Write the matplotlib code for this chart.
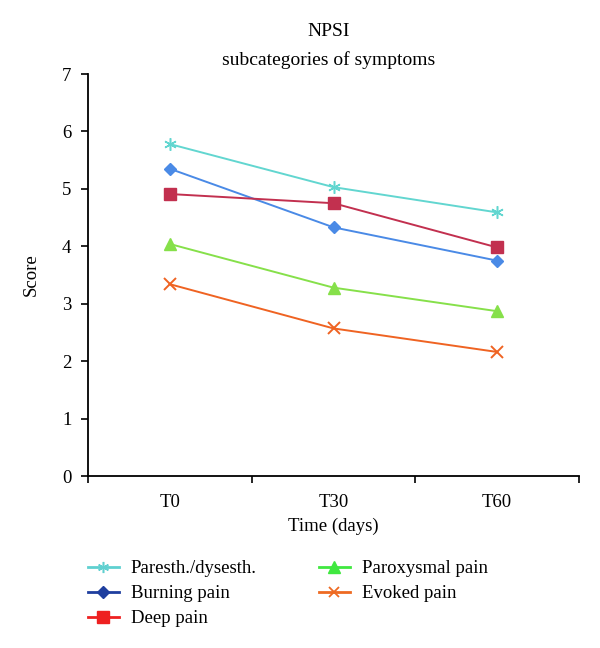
import matplotlib
matplotlib.use("Agg")
import matplotlib.pyplot as plt
from matplotlib.lines import Line2D
from matplotlib.font_manager import FontProperties

plt.rcParams['font.family'] = ['Liberation Serif', 'DejaVu Serif']
plt.rcParams['font.serif'] = ['Liberation Serif', 'DejaVu Serif']

times = ["T0", "T30", "T60"]
paresth = [5.78, 5.03, 4.59]
burning = [5.35, 4.33, 3.75]
deep = [4.91, 4.75, 3.98]
paroxysmal = [4.04, 3.28, 2.87]
evoked = [3.34, 2.57, 2.16]

series_names = ["Paresth./dysesth.", "Burning pain", "Deep pain", "Paroxysmal pain", "Evoked pain"]
series_values = [paresth, burning, deep, paroxysmal, evoked]
line_colors = ["#62d6d0", "#4a8ae6", "#c2304f", "#86e04a", "#ef6322"]
legend_colors = ["#5fd0d0", "#1f3f9f", "#ee2020", "#40e840", "#ee6a22"]
markers = ["*", "D", "s", "^", "x"]
marker_sizes = [9, 6, 8, 8, 8]

FS = 13.5
FAM = ['Liberation Serif', 'DejaVu Serif']
fp = FontProperties(family=FAM, size=FS)

fig = plt.figure(figsize=(6.0, 6.48), dpi=100)
ax = fig.add_axes([0.1467, 0.2654, 0.8183, 0.6204])

x = list(range(len(times)))
for vals, c, m, ms in zip(series_values, line_colors, markers, marker_sizes):
    if m == "*":
        ax.plot(x, vals, color=c, lw=1.4, marker=(6, 2, 0), ms=ms, mew=1.1, mec=c)
    elif m == "x":
        ax.plot(x, vals, color=c, lw=1.4, marker="x", ms=ms, mew=1.4, mec=c)
    else:
        ax.plot(x, vals, color=c, lw=1.4, marker=m, ms=ms, mec=c, mfc=c)

ax.set_xlim(-0.5, 2.5)
ax.set_ylim(0, 7)
ax.set_xticks([-0.5, 0.5, 1.5, 2.5])
ax.set_xticklabels([])
ax.set_xticks(x, minor=True)
ax.set_xticklabels(times, minor=True, fontproperties=fp)
ax.tick_params(axis='x', which='minor', length=0, pad=13)
ax.tick_params(axis='x', which='major', length=5, width=1.2, direction='out')
ax.set_yticks(range(0, 8))
ax.set_yticklabels([str(v) for v in range(0, 8)], fontproperties=fp)
ax.tick_params(axis='y', length=5, width=1.2, direction='out', pad=7)
for s in ["top", "right"]:
    ax.spines[s].set_visible(False)
for s in ["left", "bottom"]:
    ax.spines[s].set_linewidth(1.3)

ax.set_ylabel("Score", fontproperties=fp, labelpad=16)
ax.set_xlabel("Time (days)", fontproperties=fp, labelpad=5)

fpt = FontProperties(family=FAM, size=FS + 0.5)
fig.text(329/600, 1 - 31/648, "NPSI", ha='center', va='center', fontproperties=fpt)
fig.text(329/600, 1 - 60/648, "subcategories of symptoms", ha='center', va='center', fontproperties=fpt)

handles = []
for name, c, m, ms in zip(series_names, legend_colors, markers, marker_sizes):
    if m == "*":
        h = Line2D([], [], color=c, lw=2.0, marker=(6, 2, 0), ms=8, mew=1.1, mec=c)
    elif m == "x":
        h = Line2D([], [], color=c, lw=2.0, marker="x", ms=7, mew=1.3, mec=c)
    else:
        h = Line2D([], [], color=c, lw=2.0, marker=m, ms=ms, mec=c, mfc=c)
    handles.append(h)

fig.legend(handles, series_names, ncol=2, loc='upper left',
           bbox_to_anchor=(88/600, 1 - 560/648), frameon=False, prop=fp,
           handlelength=1.65, handletextpad=0.64, columnspacing=3.3,
           labelspacing=0.42, borderpad=0, borderaxespad=0)

fig.savefig("out.png", dpi=100)
